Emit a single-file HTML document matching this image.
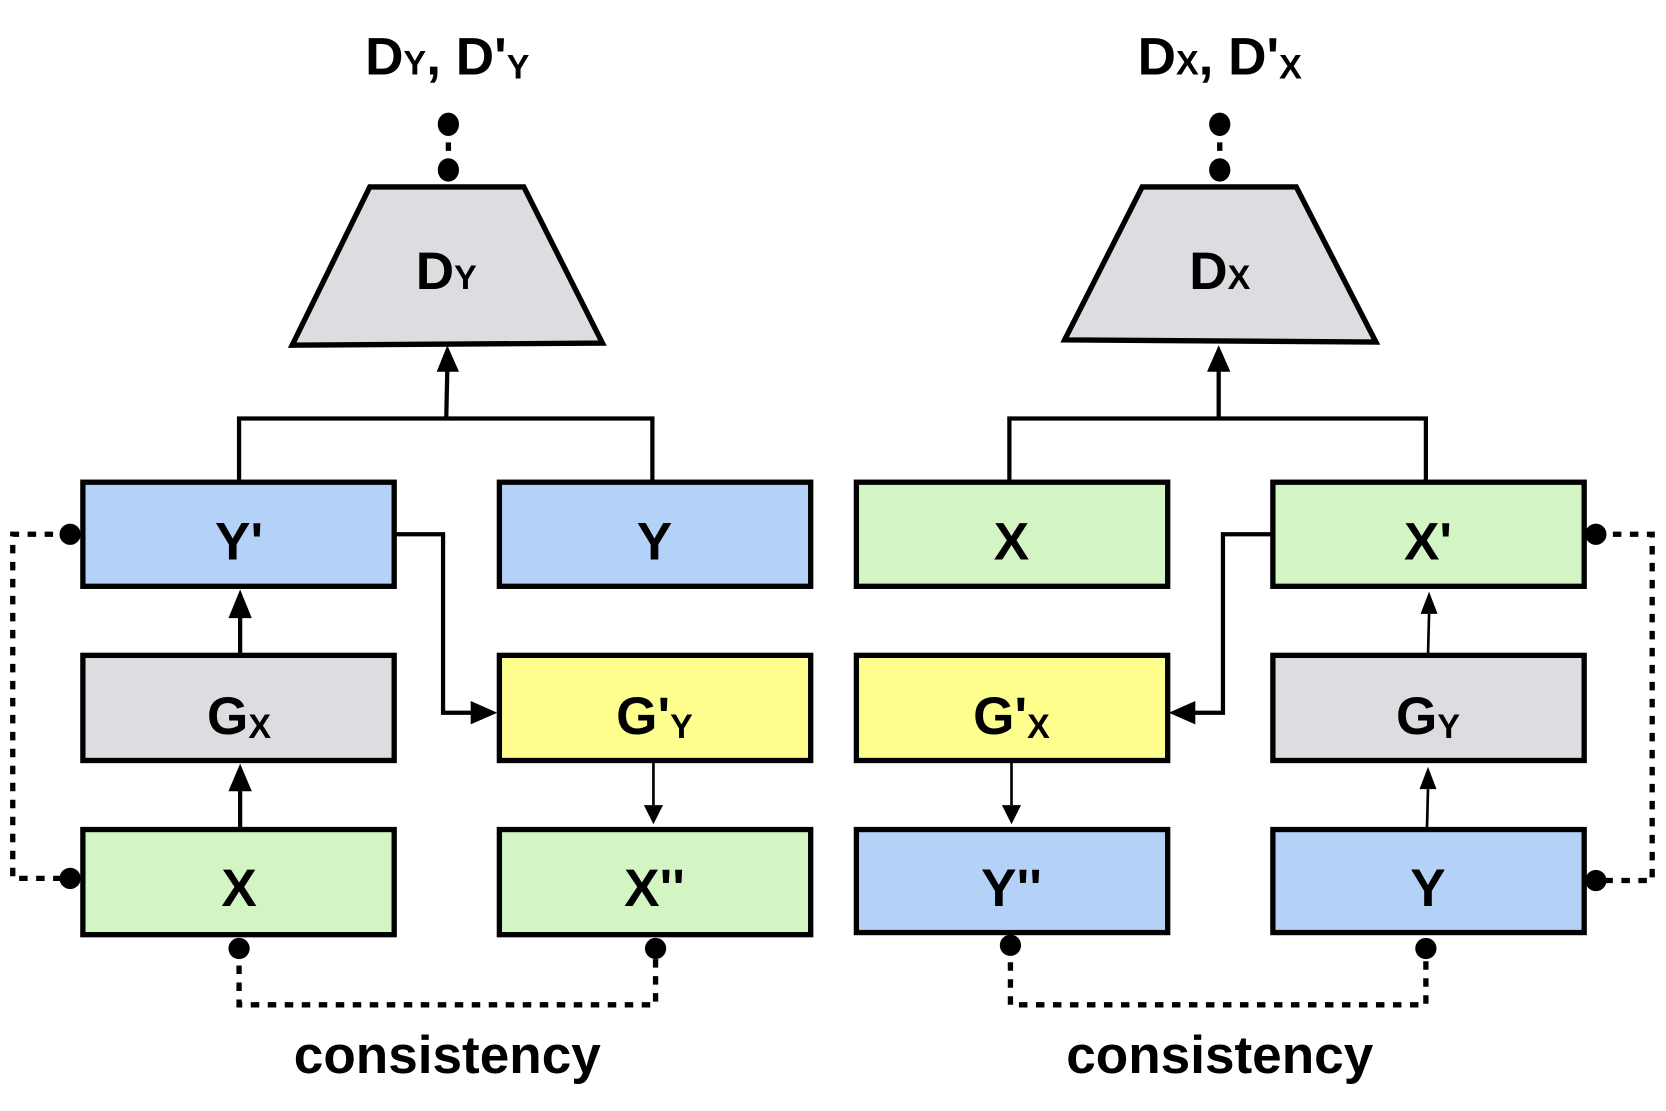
<!DOCTYPE html>
<html><head><meta charset="utf-8"><style>
html,body{margin:0;padding:0;background:#fff}
svg{display:block}
text{font-family:"Liberation Sans",sans-serif;font-weight:bold;fill:#000}
</style></head><body>
<svg width="1666" height="1111" viewBox="0 0 1568 1046" preserveAspectRatio="none" xmlns="http://www.w3.org/2000/svg">
<defs>
<marker id="ah" viewBox="0 0 10 10" refX="9" refY="5" markerWidth="6" markerHeight="6" orient="auto" markerUnits="userSpaceOnUse" style="overflow:visible">
</marker>
</defs>
<g stroke="#000" stroke-width="4" fill="none">
<!-- left tree -->
<polyline points="225,453 225,394 614,394 614,453"/>
<line x1="420" y1="394" x2="421" y2="348"/>
<polyline points="371,503 417,503 417,671 448,671"/>
<line x1="226" y1="617" x2="226" y2="580"/>
<line x1="226" y1="781" x2="226" y2="743"/>
<line x1="615" y1="716" x2="615" y2="758" stroke-width="2.5"/>
<!-- right tree -->
<polyline points="950,453 950,394 1342,394 1342,453"/>
<line x1="1147" y1="394" x2="1147" y2="348"/>
<polyline points="1198,503 1151,503 1151,671 1122,671"/>
<line x1="1344" y1="617" x2="1345" y2="578" stroke-width="2.5"/>
<line x1="1343" y1="781" x2="1344" y2="743" stroke-width="2.5"/>
<line x1="952" y1="716" x2="952" y2="758" stroke-width="2.5"/>
<!-- dotted -->
<g stroke-dasharray="8,8" stroke-width="5">
<polyline points="66,503 12,503 12,827 66,827"/>
<polyline points="225,893 225,946 617,946 617,893"/>
<polyline points="1502,503 1555,503 1555,829 1502,829"/>
<polyline points="951,890 951,946 1342,946 1342,893"/>
<line x1="422" y1="118" x2="422" y2="160"/>
<line x1="1148" y1="118" x2="1148" y2="160"/>
</g>
</g>
<!-- arrowheads -->
<g fill="#000">
<polygon points="421,325 411,350 432,350"/>
<polygon points="1147,325 1136,350 1158,350"/>
<polygon points="226,555 215,582 237,582"/>
<polygon points="226,719 215,745 237,745"/>
<polygon points="468,671 443,660 443,682"/>
<polygon points="615,776 606,758 624,758"/>
<polygon points="1345,557 1337,578 1353,578"/>
<polygon points="1344,722 1336,743 1352,743"/>
<polygon points="1100,671 1125,660 1125,682"/>
<polygon points="952,776 943,758 961,758"/>
<!-- dots -->
<circle cx="66" cy="503" r="10"/><circle cx="66" cy="827" r="10"/>
<circle cx="225" cy="893" r="10"/><circle cx="617" cy="893" r="10"/>
<circle cx="1502" cy="503" r="10"/><circle cx="1502" cy="829" r="10"/>
<circle cx="951" cy="890" r="10"/><circle cx="1342" cy="893" r="10"/>
<ellipse cx="422" cy="117" rx="10" ry="11"/><ellipse cx="422" cy="160" rx="10" ry="11"/>
<ellipse cx="1148" cy="117" rx="10" ry="11"/><ellipse cx="1148" cy="160" rx="10" ry="11"/>
</g>
<!-- shapes -->
<g stroke="#000" stroke-width="5">
<polygon points="348,176 493,176 567,323 275,325" fill="#dcdde0"/>
<polygon points="1075,176 1220,176 1295,322 1002,320" fill="#dcdde0"/>
<rect x="78" y="454" width="293" height="98" fill="#b4d1f7"/>
<rect x="470" y="454" width="293" height="98" fill="#b4d1f7"/>
<rect x="78" y="617" width="293" height="99" fill="#dcdde0"/>
<rect x="470" y="617" width="293" height="99" fill="#fefe8e"/>
<rect x="78" y="781" width="293" height="99" fill="#d3f5c4"/>
<rect x="470" y="781" width="293" height="99" fill="#d3f5c4"/>
<rect x="806" y="454" width="293" height="98" fill="#d3f5c4"/>
<rect x="1198" y="454" width="293" height="98" fill="#d3f5c4"/>
<rect x="806" y="617" width="293" height="99" fill="#fefe8e"/>
<rect x="1198" y="617" width="293" height="99" fill="#dcdde0"/>
<rect x="806" y="781" width="293" height="97" fill="#b4d1f7"/>
<rect x="1198" y="781" width="293" height="97" fill="#b4d1f7"/>
</g>
<!-- labels -->
<g font-size="50" text-anchor="middle">
<text x="421" y="70">D<tspan font-size="32">Y</tspan>, D'<tspan font-size="32" dy="4">Y</tspan></text>
<text x="1148" y="70">D<tspan font-size="32">X</tspan>, D'<tspan font-size="32" dy="4">X</tspan></text>
<text x="420" y="272">D<tspan font-size="32">Y</tspan></text>
<text x="1148" y="272">D<tspan font-size="32">X</tspan></text>
<text x="225" y="527">Y'</text>
<text x="616" y="527">Y</text>
<text x="225" y="691">G<tspan font-size="32" dy="4">X</tspan></text>
<text x="616" y="691">G'<tspan font-size="32" dy="4">Y</tspan></text>
<text x="225" y="853">X</text>
<text x="616" y="853">X''</text>
<text x="952" y="527">X</text>
<text x="1344" y="527">X'</text>
<text x="952" y="691">G'<tspan font-size="32" dy="4">X</tspan></text>
<text x="1344" y="691">G<tspan font-size="32" dy="4">Y</tspan></text>
<text x="952" y="853">Y''</text>
<text x="1344" y="853">Y</text>
<text x="421" y="1010">consistency</text>
<text x="1148" y="1010">consistency</text>
</g>
</svg>
</body></html>
